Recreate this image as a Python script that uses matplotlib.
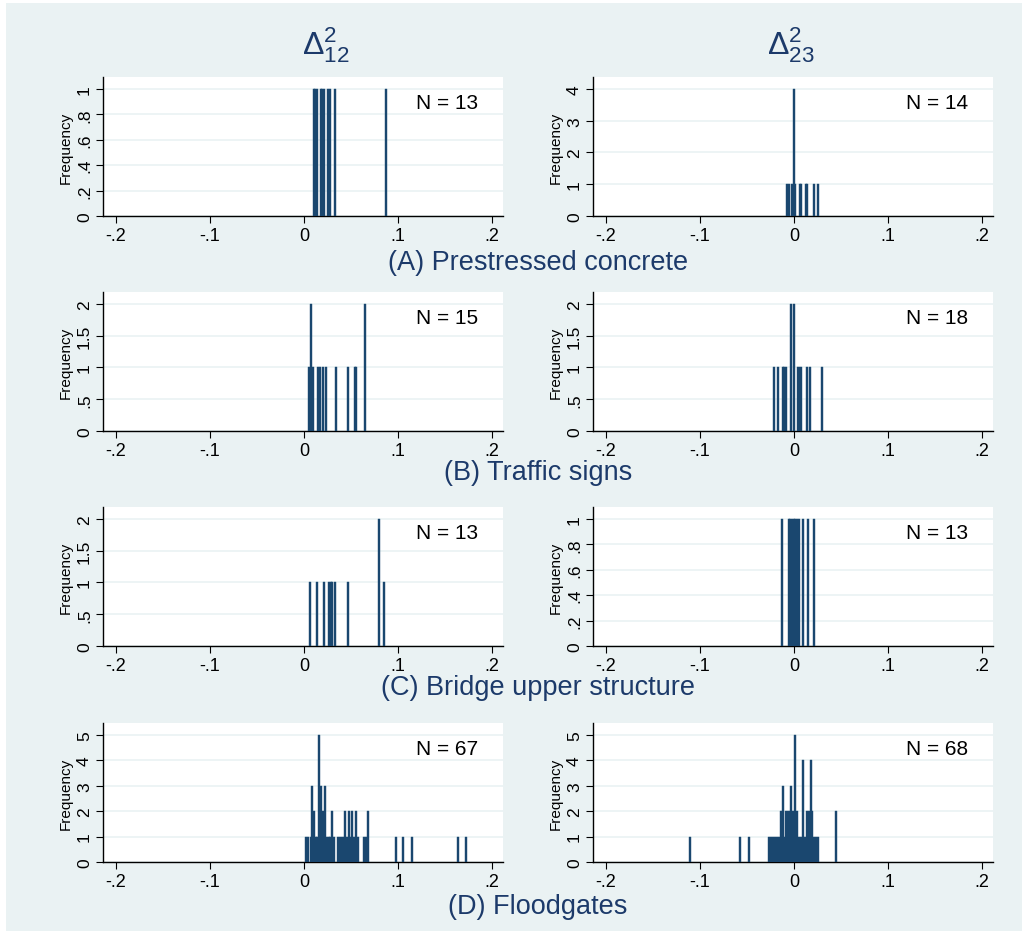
"""
Histograms of squared differences by asset type (Stata-style 4x2 panel grid).
"""

import matplotlib.pyplot as plt
from matplotlib.patches import Rectangle

plt.rcParams['font.family'] = ['Liberation Sans', 'DejaVu Sans']
plt.rcParams['mathtext.fontset'] = 'custom'
plt.rcParams['mathtext.rm'] = 'Liberation Sans'
plt.rcParams['mathtext.it'] = 'Liberation Sans:italic'

# ---- data: bin centres and frequencies ----
col_titles = [r'$\Delta^{2}_{12}$', r'$\Delta^{2}_{23}$']
row_labels = ['(A) Prestressed concrete', '(B) Traffic signs',
              '(C) Bridge upper structure', '(D) Floodgates']
n_obs = [[13, 14], [15, 18], [13, 13], [67, 68]]

a12_x = [0.0103, 0.0119, 0.0134, 0.0177, 0.0193, 0.0209, 0.0257, 0.0282,
         0.0331, 0.0876]
a12_f = [1, 1, 1, 1, 1, 1, 1, 1, 1, 1]
a23_x = [-0.0073, -0.0055, -0.0019, 0.0000, 0.0015, 0.0060, 0.0079,
         0.0126, 0.0143, 0.0217, 0.0253]
a23_f = [1, 1, 1, 4, 1, 1, 1, 1, 1, 1, 1]

b12_x = [0.0054, 0.0080, 0.0099, 0.0150, 0.0168, 0.0200, 0.0238, 0.0344,
         0.0466, 0.0539, 0.0557, 0.0650]
b12_f = [1, 2, 1, 1, 1, 1, 1, 1, 1, 1, 1, 2]
b23_x = [-0.0212, -0.0172, -0.0119, -0.0101, -0.0083, -0.0035, 0.0005,
         0.0038, 0.0058, 0.0078, 0.0136, 0.0173, 0.0296]
b23_f = [1, 1, 1, 1, 1, 2, 2, 1, 1, 1, 1, 1, 1]

c12_x = [0.0061, 0.0143, 0.0209, 0.0266, 0.0283, 0.0296, 0.0329, 0.0473,
         0.0800, 0.0847]
c12_f = [1, 1, 1, 1, 1, 1, 1, 1, 2, 1]
c23_x = [-0.0130, -0.0055, -0.0038, -0.0020, -0.0003, 0.0015, 0.0033,
         0.0052, 0.0094, 0.0152, 0.0216]
c23_f = [1, 1, 1, 1, 1, 1, 1, 1, 1, 1, 1]

d12_x = [0.0022, 0.0046, 0.0070, 0.0089, 0.0107, 0.0127, 0.0141, 0.0161,
         0.0186, 0.0204, 0.0220, 0.0242, 0.0262, 0.0276, 0.0295, 0.0318,
         0.0366, 0.0387, 0.0408, 0.0425, 0.0442, 0.0459, 0.0477, 0.0495,
         0.0513, 0.0530, 0.0550, 0.0575, 0.0636, 0.0660, 0.0686, 0.0975,
         0.1055, 0.1150, 0.1635, 0.1720]
d12_f = [1, 1, 1, 3, 2, 1, 1, 5, 3, 2, 3, 1, 1, 1, 2, 1,
         1, 1, 1, 1, 2, 1, 2, 1, 2, 1, 2, 1, 1, 1, 2, 1,
         1, 1, 1, 1]
d23_x = [-0.1110, -0.0576, -0.0473, -0.0266, -0.0245, -0.0224, -0.0203,
         -0.0182, -0.0161, -0.0135, -0.0117, -0.0101, -0.0080, -0.0061,
         -0.0045, -0.0027, -0.0009, 0.0007, 0.0030, 0.0053, 0.0072, 0.0092,
         0.0113, 0.0135, 0.0156, 0.0177, 0.0197, 0.0217, 0.0238, 0.0261,
         0.0448]
d23_f = [1, 1, 1, 1, 1, 1, 1, 1, 1, 2, 3, 1, 2, 2, 2, 3, 2, 5, 2, 1, 1, 4,
         1, 2, 2, 4, 2, 1, 1, 1, 2]

panels = [[(a12_x, a12_f), (a23_x, a23_f)],
          [(b12_x, b12_f), (b23_x, b23_f)],
          [(c12_x, c12_f), (c23_x, c23_f)],
          [(d12_x, d12_f), (d23_x, d23_f)]]

yticks = [[[0, .2, .4, .6, .8, 1], [0, 1, 2, 3, 4]],
          [[0, .5, 1, 1.5, 2], [0, .5, 1, 1.5, 2]],
          [[0, .5, 1, 1.5, 2], [0, .2, .4, .6, .8, 1]],
          [[0, 1, 2, 3, 4, 5], [0, 1, 2, 3, 4, 5]]]
xticks = [-0.2, -0.1, 0, 0.1, 0.2]


def stata_lab(v):
    s = f'{v:g}'
    if s.startswith('0.'):
        s = s[1:]
    elif s.startswith('-0.'):
        s = '-' + s[2:]
    return s


# ---- figure ----
W, H = 1028, 937
fig = plt.figure(figsize=(W / 100, H / 100), dpi=100)
fig.patch.set_facecolor('white')
fig.patches.append(Rectangle((6 / W, 5 / H), 1016 / W, 928 / H,
                             transform=fig.transFigure, facecolor='#eaf2f3',
                             edgecolor='none', zorder=-10))

bar_col = '#1a476f'
navy = '#1c3a6a'
col_left = [103, 593]
row_top = [78, 293, 508, 724]
ax_w, ax_h = 400, 139

for r in range(4):
    for c in range(2):
        x0 = col_left[c]
        ax = fig.add_axes([x0 / W, 1 - (row_top[r] + ax_h) / H, ax_w / W, ax_h / H])
        xs, fs = panels[r][c]
        ax.bar(xs, fs, width=0.0021, color=bar_col, edgecolor=bar_col,
               linewidth=0.3, zorder=3)
        yt = yticks[r][c]
        ymax = yt[-1]
        ax.set_ylim(0, ymax * 1.094)
        ax.set_xlim(-0.2138, 0.2118)
        ax.set_yticks(yt)
        ax.set_yticklabels([stata_lab(v) for v in yt], rotation=90,
                           va='center', fontsize=12.5)
        ax.set_xticks(xticks)
        ax.set_xticklabels([stata_lab(v) for v in xticks], fontsize=13)
        ax.grid(axis='y', color='#eaf2f3', linewidth=1.2, zorder=0)
        ax.set_axisbelow(True)
        for s in ['top', 'right']:
            ax.spines[s].set_visible(False)
        for s in ['left', 'bottom']:
            ax.spines[s].set_linewidth(1.0)
            ax.spines[s].set_color('black')
        ax.tick_params(direction='out', length=5, width=0.8, pad=3)
        ax.set_ylabel('Frequency', fontsize=11, labelpad=3)
        ax.text(0.937, 0.82, f'N = {n_obs[r][c]}', transform=ax.transAxes,
                ha='right', va='center', fontsize=15, color='black')

    fig.text(538 / W, 1 - [263, 473, 688, 907][r] / H, row_labels[r],
             ha='center', va='center', fontsize=19.5, color=navy)

for c, xc in enumerate([326, 791]):
    fig.text(xc / W, 1 - 45 / H, col_titles[c], ha='center', va='center',
             fontsize=23, color=navy)

fig.savefig('out.png', dpi=100)
